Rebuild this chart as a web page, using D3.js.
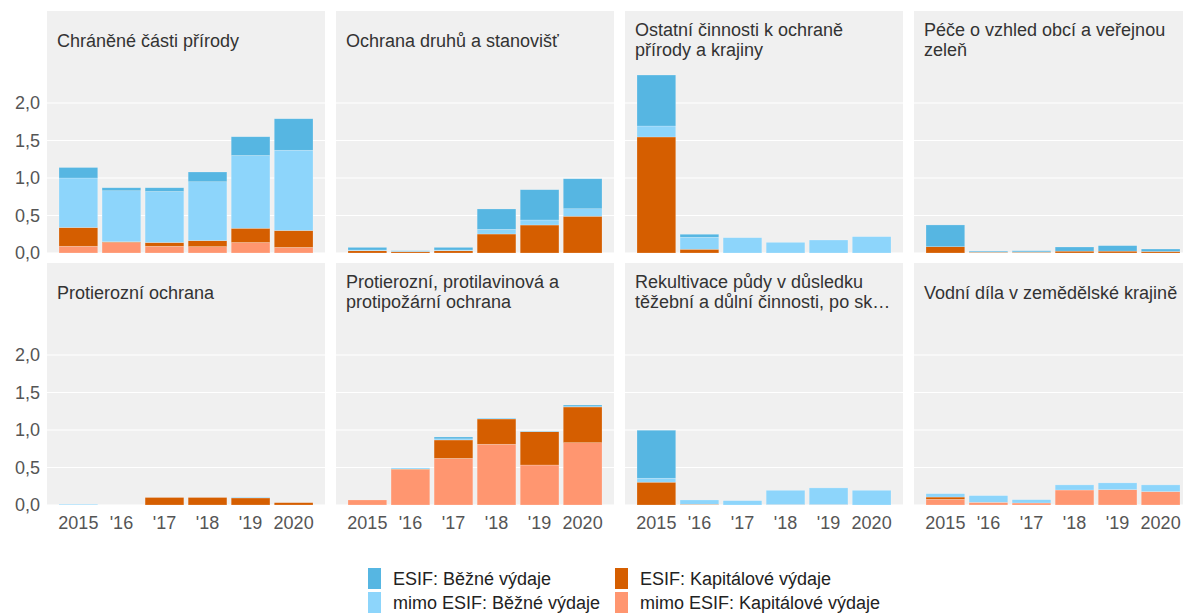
<!DOCTYPE html>
<html>
<head>
<meta charset="utf-8">
<script src="https://cdn.jsdelivr.net/npm/d3@7"></script>
<style>
  body { margin: 0; background: #fff; }
  text { font-family: "Liberation Sans", Arial, sans-serif; }
</style>
</head>
<body>
<div id="chart"></div>
<script>
// data
var years = ["2015", "2016", "2017", "2018", "2019", "2020"];
var yearLabels = ["2015", "'16", "'17", "'18", "'19", "2020"];
var panelTitles = [
    ["Chráněné části přírody"],
    ["Ochrana druhů a stanovišť"],
    ["Ostatní činnosti k ochraně", "přírody a krajiny"],
    ["Péče o vzhled obcí a veřejnou", "zeleň"],
    ["Protierozní ochrana"],
    ["Protierozní, protilavinová a", "protipožární ochrana"],
    ["Rekultivace půdy v důsledku", "těžební a důlní činnosti, po sk…"],
    ["Vodní díla v zemědělské krajině"]
];
var seriesKeys = ["mimoKap", "esifKap", "mimoBez", "esifBez"];
var seriesNames = {
    esifBez: "ESIF: Běžné výdaje",
    mimoBez: "mimo ESIF: Běžné výdaje",
    esifKap: "ESIF: Kapitálové výdaje",
    mimoKap: "mimo ESIF: Kapitálové výdaje"
};
// one row per panel, one value per year (mld. Kč)
var mimoKap = [
    [0.09, 0.14, 0.09, 0.085, 0.14, 0.075],
    [0, 0, 0, 0, 0, 0],
    [0, 0, 0, 0, 0, 0],
    [0, 0, 0, 0, 0, 0],
    [0, 0, 0, 0, 0, 0],
    [0.067, 0.475, 0.622, 0.81, 0.533, 0.831],
    [0, 0.005, 0, 0.005, 0.005, 0],
    [0.076, 0.036, 0.027, 0.2, 0.205, 0.179]
];
var esifKap = [
    [0.25, 0.01, 0.05, 0.08, 0.19, 0.225],
    [0.03, 0.018, 0.03, 0.253, 0.373, 0.49],
    [1.547, 0.05, 0, 0, 0, 0],
    [0.084, 0.01, 0.01, 0.025, 0.025, 0.02],
    [0, 0, 0.1, 0.1, 0.094, 0.031],
    [0, 0.005, 0.245, 0.337, 0.445, 0.476],
    [0.304, 0.005, 0, 0, 0, 0],
    [0.03, 0, 0, 0, 0, 0]
];
var mimoBez = [
    [0.66, 0.68, 0.68, 0.785, 0.97, 1.07],
    [0.01, 0.005, 0.01, 0.062, 0.067, 0.1],
    [0.146, 0.16, 0.204, 0.142, 0.173, 0.218],
    [0, 0.005, 0.005, 0, 0, 0],
    [0.01, 0, 0, 0, 0.01, 0],
    [0, 0.015, 0.015, 0.013, 0.009, 0.005],
    [0.053, 0.057, 0.058, 0.191, 0.223, 0.196],
    [0.045, 0.089, 0.044, 0.068, 0.09, 0.089]
];
var esifBez = [
    [0.14, 0.04, 0.05, 0.13, 0.25, 0.42],
    [0.035, 0.007, 0.035, 0.272, 0.404, 0.4],
    [0.68, 0.04, 0, 0, 0, 0],
    [0.29, 0.012, 0.015, 0.055, 0.073, 0.033],
    [0, 0, 0, 0, 0, 0],
    [0, 0, 0.025, 0, 0, 0.021],
    [0.64, 0, 0, 0, 0, 0],
    [0, 0, 0, 0, 0, 0]
];
var yTicks = [0, 0.5, 1, 1.5, 2];

var colors = {
    esifBez: "#56b6e2",
    mimoBez: "#8dd5fb",
    esifKap: "#d55e00",
    mimoKap: "#ff9670"
};

// layout
var width = 1183, height = 615;
var panelW = 278, panelH = 242;
var colX = [47, 336, 625, 914];
var rowY = [11, 263];

var svg = d3.select("#chart")
    .append("svg")
    .attr("width", width)
    .attr("height", height);

var x = d3.scaleBand()
    .domain(years)
    .range([12, panelW - 12])
    .paddingInner(0.1);

var y = d3.scaleLinear()
    .domain([0, panelH / 75])
    .range([panelH, 0]);

var stack = d3.stack().keys(seriesKeys);
var fmt = function (d) { return d3.format(".1f")(d).replace(".", ","); };

panelTitles.forEach(function (title, p) {
    var col = p % 4, row = Math.floor(p / 4);
    var g = svg.append("g")
        .attr("transform", "translate(" + colX[col] + "," + rowY[row] + ")");

    g.append("rect")
        .attr("width", panelW)
        .attr("height", panelH)
        .attr("fill", "#f0f0f0");

    g.selectAll(".grid")
        .data(yTicks)
        .enter()
        .append("line")
        .attr("x1", 0).attr("x2", panelW)
        .attr("y1", function (d) { return y(d); })
        .attr("y2", function (d) { return y(d); })
        .attr("stroke", "#fff")
        .attr("stroke-width", 1.1);

    var rows = years.map(function (yr, i) {
        return {
            year: yr,
            mimoKap: mimoKap[p][i],
            esifKap: esifKap[p][i],
            mimoBez: mimoBez[p][i],
            esifBez: esifBez[p][i]
        };
    });

    g.selectAll(".layer")
        .data(stack(rows))
        .enter()
        .append("g")
        .attr("fill", function (d) { return colors[d.key]; })
        .selectAll("rect")
        .data(function (d) { return d; })
        .enter()
        .append("rect")
        .attr("x", function (d) { return x(d.data.year); })
        .attr("width", x.bandwidth())
        .attr("y", function (d) { return y(d[1]); })
        .attr("height", function (d) { return y(d[0]) - y(d[1]); })
        .attr("stroke", "#fff")
        .attr("stroke-opacity", 0.35)
        .attr("stroke-width", 0.6);

    // facet title inside the panel
    var t = g.append("text")
        .attr("x", 10)
        .attr("fill", "#333")
        .style("font-size", "18px");
    title.forEach(function (line, i) {
        var base = title.length == 1 ? 35.5 : 24.5 + i * 20;
        t.append("tspan").attr("x", 10).attr("y", base).text(line);
    });

    if (col == 0) {
        g.append("g")
            .selectAll("text")
            .data(yTicks)
            .enter()
            .append("text")
            .attr("x", -7)
            .attr("y", function (d) { return y(d); })
            .attr("dy", "0.36em")
            .attr("text-anchor", "end")
            .attr("fill", "#555")
            .style("font-size", "18px")
            .text(fmt);
    }

    if (row == 1) {
        g.append("g")
            .selectAll("text")
            .data(years)
            .enter()
            .append("text")
            .attr("x", function (d) { return x(d) + x.bandwidth() / 2; })
            .attr("y", panelH + 24)
            .attr("text-anchor", "middle")
            .attr("fill", "#555")
            .style("font-size", "18px")
            .text(function (d, i) { return yearLabels[i]; });
    }
});

// legend
var legendItems = ["esifBez", "esifKap", "mimoBez", "mimoKap"];
var legend = svg.append("g");
legendItems.forEach(function (k, i) {
    var lx = [368, 615][i % 2], ly = [568, 592][Math.floor(i / 2)];
    legend.append("rect")
        .attr("x", lx).attr("y", ly)
        .attr("width", 13).attr("height", 21)
        .attr("fill", colors[k]);
    legend.append("text")
        .attr("x", lx + 25).attr("y", ly + 11)
        .attr("dy", "0.36em")
        .attr("fill", "#222")
        .style("font-size", "18px")
        .text(seriesNames[k]);
});
</script>
</body>
</html>
